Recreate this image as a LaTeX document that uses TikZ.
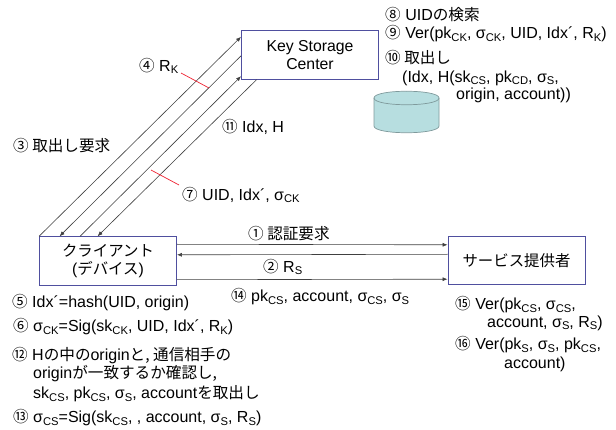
\documentclass[tikz,border=0pt]{standalone}
\usepackage{fontspec}
\setmainfont{Liberation Sans}
\newfontfamily\jpfont[Scale=0.975]{Noto Sans CJK JP}
\usetikzlibrary{arrows.meta,positioning}
\newcommand{\ja}[1]{{\jpfont #1}}
\newcommand{\lowtext}[1]{\raisebox{-0.3ex}{\fontsize{11.2}{12}\selectfont #1}}
\definecolor{boxblue}{HTML}{4F4F9F}
\definecolor{dbfill}{HTML}{B7DEE0}
\definecolor{dbline}{HTML}{7F9A9C}
\definecolor{redmark}{HTML}{EE2030}
\tikzset{
  partybox/.style={draw=boxblue,line width=0.9pt,fill=white,minimum width=137pt,minimum height=48.5pt,align=center,font=\fontsize{15.8}{18.5}\selectfont,inner sep=0pt},
  msgline/.style={draw=black!75,line width=0.6pt},
  msgarrow/.style={msgline,-{Latex[length=5pt,width=4pt]}},
  notemark/.style={draw=redmark,line width=0.7pt},
  steplabel/.style={anchor=west,inner sep=0pt,font=\fontsize{16}{18}\selectfont}
}
\begin{document}
\begin{tikzpicture}[x=1pt,y=-1pt]
  \useasboundingbox (0,0) rectangle (616,430);
  % parties
  \node[partybox] (ksc) at (310,55) {Key Storage\\Center};
  \node[partybox] (client) at (108,261) {\raisebox{-2pt}{\ja{クライアント}}\\\raisebox{-2pt}{(\ja{デバイス})}};
  \node[partybox] (provider) at (516.5,260.5) {\raisebox{-1.5pt}{\ja{サービス提供者}}};
  % storage
  \draw[draw=dbline,fill=dbfill,line width=0.7pt] (374,98) -- (374,126) .. controls (374,135) and (439,135) .. (439,126) -- (439,98) .. controls (439,89) and (374,89) .. (374,98) -- cycle;
  \draw[draw=dbline,line width=0.7pt] (374,98) .. controls (374,107) and (439,107) .. (439,98);
  % client <-> key storage
  \draw[msgarrow] (client.north west) -- ([yshift=-6.5pt]ksc.north west);
  \draw[msgarrow] ([yshift=-25.5pt]ksc.north west) -- ([xshift=20.5pt]client.north west);
  \draw[msgarrow] ([xshift=41pt]client.north west) -- ([yshift=3.5pt]ksc.south west);
  \draw[msgarrow] ([xshift=15.5pt]ksc.south west) -- ([xshift=58.5pt]client.north west);
  % client <-> provider
  \draw[msgarrow] ([yshift=-8pt]client.north east) -- ([yshift=-9pt]provider.north west);
  \draw[msgarrow] ([yshift=-18.5pt]provider.north west) -- ([yshift=-18.5pt]client.north east);
  \draw[msgarrow] ([yshift=6pt]client.south east) -- ([yshift=6pt]provider.south west);
  % red ticks
  \coordinate (tickA) at (181,73);
  \coordinate (tickB) at (209,88);
  \coordinate (tickC) at (151,170);
  \coordinate (tickD) at (179,185);
  \draw[notemark] (tickA) -- (tickB);
  \draw[notemark] (tickC) -- (tickD);
  % labels on the diagonals
  \node[steplabel] (s3) at (13,146) {\ja{③ 取出し要求}};
  \node[steplabel] (s4) at (139,66) {\ja{④} R\lowtext{K}};
  \node[steplabel] (s11) at (222,127) {\ja{⑪} Idx, H};
  \node[steplabel] (s7) at (182,195) {\ja{⑦} UID, Idx´, σ\lowtext{CK}};
  % key storage notes
  \node[steplabel] (s8) at (385,15) {\ja{⑧} UID\ja{の検索}};
  \node[steplabel] (s9) at (385,34) {\ja{⑨} Ver(pk\lowtext{CK}, σ\lowtext{CK}, UID, Idx´, R\lowtext{K})};
  \node[steplabel] (s10) at (385,58) {\ja{⑩ 取出し}};
  \node[steplabel] (s10a) at (402,78) {(Idx, H(sk\lowtext{CS}, pk\lowtext{CD}, σ\lowtext{S},};
  \node[steplabel] (s10b) at (456,95) {origin, account))};
  % labels on the horizontals
  \node[steplabel] (s1) at (248,233.5) {\ja{① 認証要求}};
  \node[steplabel] (s2) at (263,267) {\ja{②} R\lowtext{S}};
  \node[steplabel] (s14) at (231,297) {\ja{⑭} pk\lowtext{CS}, account, σ\lowtext{CS}, σ\lowtext{S}};
  % client notes
  \node[steplabel] (s5) at (12,303) {\ja{⑤} Idx´=hash(UID, origin)};
  \node[steplabel] (s6) at (13,327) {\ja{⑥} σ\lowtext{CK}=Sig(sk\lowtext{CK}, UID, Idx´, R\lowtext{K})};
  \node[steplabel] (s12) at (12,356) {\ja{⑫} H\ja{の中の}origin\ja{と, 通信相手の}};
  \node[steplabel] (s12a) at (33,374) {origin\ja{が一致するか確認し,}};
  \node[steplabel] (s12b) at (33,394) {sk\lowtext{CS}, pk\lowtext{CS}, σ\lowtext{S}, account\ja{を取出し}};
  \node[steplabel] (s13) at (13,418) {\ja{⑬} σ\lowtext{CS}=Sig(sk\lowtext{CS}, , account, σ\lowtext{S}, R\lowtext{S})};
  % provider notes
  \node[steplabel] (s15) at (455,305) {\ja{⑮} Ver(pk\lowtext{CS}, σ\lowtext{CS},};
  \node[steplabel] (s15a) at (487,323) {account, σ\lowtext{S}, R\lowtext{S})};
  \node[steplabel] (s16) at (455,345) {\ja{⑯} Ver(pk\lowtext{S}, σ\lowtext{S}, pk\lowtext{CS},};
  \node[steplabel] (s16a) at (504,364) {account)};
\end{tikzpicture}
\end{document}
